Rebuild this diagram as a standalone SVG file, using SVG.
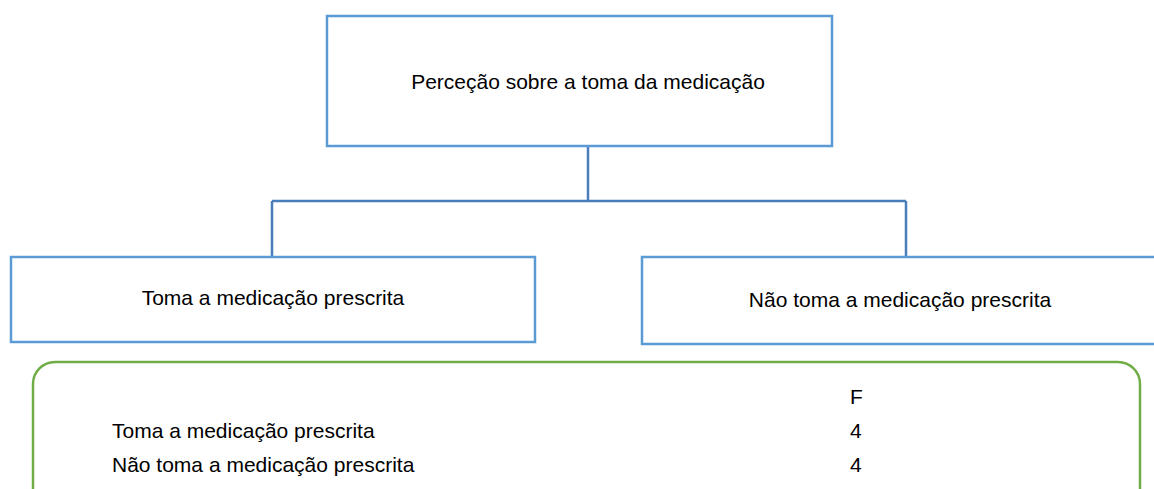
<svg xmlns="http://www.w3.org/2000/svg" width="1154" height="489" viewBox="0 0 1154 489">
<style>
.box{fill:#fff;stroke:#5B9BD5;stroke-width:2.5}
.con{fill:none;stroke:#4A7EBB;stroke-width:2.5}
.t{font-family:"Liberation Sans",Arial,sans-serif;font-size:21px;fill:#000}
.c{text-anchor:middle}
</style>
<rect width="1154" height="489" fill="#fff"/>
<g id="connectors">
<path class="con" d="M588 146V201M272 201H906M272 201V257M906 201V257"/>
</g>
<g id="n-top">
<rect class="box" x="327" y="16" width="505" height="130"/>
<text class="t c" x="588" y="89">Perceção sobre a toma da medicação</text>
</g>
<g id="n-left">
<rect class="box" x="11" y="257" width="524" height="85"/>
<text class="t c" x="273" y="305">Toma a medicação prescrita</text>
</g>
<g id="n-right">
<rect class="box" x="642" y="257" width="530" height="87"/>
<text class="t c" x="900" y="307">Não toma a medicação prescrita</text>
</g>
<g id="n-table">
<rect x="33" y="362" width="1107" height="160" rx="22" fill="none" stroke="#70AD47" stroke-width="2.5"/>
<text class="t" x="850" y="404">F</text>
<text class="t" x="112" y="438">Toma a medicação prescrita</text>
<text class="t" x="850" y="438">4</text>
<text class="t" x="112" y="472">Não toma a medicação prescrita</text>
<text class="t" x="850" y="472">4</text>
</g>
</svg>
